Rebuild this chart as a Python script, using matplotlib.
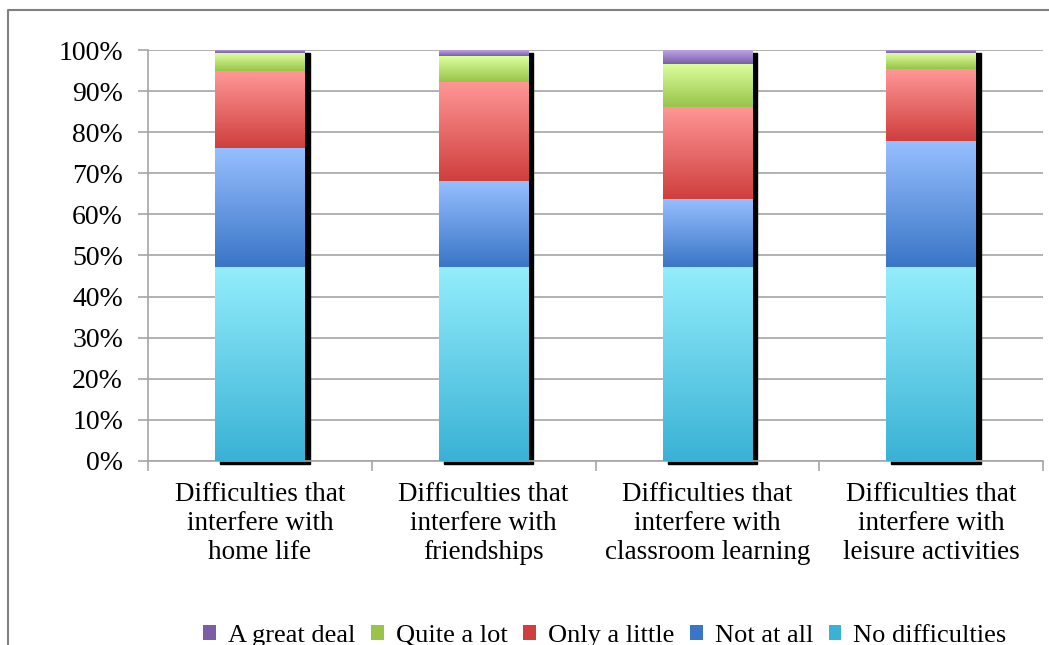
import numpy as np
import matplotlib
matplotlib.use("Agg")
import matplotlib.pyplot as plt
from matplotlib.patches import Patch, Rectangle
from matplotlib.lines import Line2D

categories = ["Difficulties that\ninterfere with\nhome life",
              "Difficulties that\ninterfere with\nfriendships",
              "Difficulties that\ninterfere with\nclassroom learning",
              "Difficulties that\ninterfere with\nleisure activities"]
no_difficulties = [47.2, 47.1, 47.1, 47.1]
not_at_all = [29.0, 21.0, 16.6, 30.8]
only_a_little = [18.7, 24.2, 22.5, 17.5]
quite_a_lot = [4.3, 6.3, 10.5, 3.8]
a_great_deal = [0.8, 1.4, 3.3, 0.8]

series = [("No difficulties", no_difficulties, "#93edfc", "#3ab2d5"),
          ("Not at all", not_at_all, "#97bfff", "#3a76c7"),
          ("Only a little", only_a_little, "#ff9797", "#cf3f3d"),
          ("Quite a lot", quite_a_lot, "#dcff9e", "#98c44a"),
          ("A great deal", a_great_deal, "#bba4e6", "#7b5ea6")]

plt.rcParams['font.family'] = ['Liberation Serif', 'DejaVu Serif']

fig = plt.figure(figsize=(10.49, 6.45), dpi=100)
ax = fig.add_axes([148/1049, 184/645, 895/1049, 411/645])

x = np.arange(len(categories))
w = 0.4
totals = np.zeros(len(categories))
for name, vals, top, bot in series:
    totals += np.array(vals)

# shadow behind each bar
for i in x:
    ax.add_patch(Rectangle((i - w/2 + 0.022, -0.8), w, totals[i], color="black",
                           zorder=2, clip_on=False))

bottoms = np.zeros(len(categories))
for name, vals, top, bot in series:
    c_top = np.array(matplotlib.colors.to_rgb(top))
    c_bot = np.array(matplotlib.colors.to_rgb(bot))
    t = np.linspace(0, 1, 64)[:, None, None]
    grad = c_bot * (1 - t) + c_top * t
    for i, v in enumerate(vals):
        ax.imshow(grad, extent=(i - w/2, i + w/2, bottoms[i], bottoms[i] + v),
                  origin="lower", aspect="auto", zorder=3, interpolation="bilinear")
    bottoms += np.array(vals)

ax.set_xlim(-0.5, 3.5)
ax.set_ylim(0, 100)
ax.set_yticks(range(0, 101, 10))
ax.set_yticklabels([f"{v}%" for v in range(0, 101, 10)], fontsize=20)
ax.yaxis.grid(True, color="#a6a6a6", linewidth=1.2, zorder=0)
ax.set_axisbelow(True)

ax.set_xticks(x)
ax.set_xticklabels(categories, fontsize=19.5, linespacing=1.22)
ax.set_xticks(np.arange(-0.5, 3.6, 1), minor=True)
ax.tick_params(axis="x", which="major", length=0, pad=15)
ax.tick_params(axis="x", which="minor", length=7, color="#a6a6a6", width=1.2)
ax.tick_params(axis="y", length=7, color="#a6a6a6", width=1.2, pad=11)

for s in ["top", "right"]:
    ax.spines[s].set_visible(False)
for s in ["left", "bottom"]:
    ax.spines[s].set_color("#a6a6a6")
    ax.spines[s].set_linewidth(1.2)

handles = [Patch(facecolor=bot, label=name) for name, vals, top, bot in reversed(series)]
fig.legend(handles=handles, loc="center", bbox_to_anchor=(605/1049, 9/645),
           ncol=5, frameon=False, fontsize=19, handlelength=0.48, handleheight=0.48,
           handletextpad=0.45, columnspacing=0.6)

# outer chart frame
fig.add_artist(Line2D([8/1049, 8/1049, 1.0], [0.0, 1 - 10/645, 1 - 10/645],
                      color="#808080", linewidth=1.5, transform=fig.transFigure))

fig.savefig("out.png", dpi=100)
